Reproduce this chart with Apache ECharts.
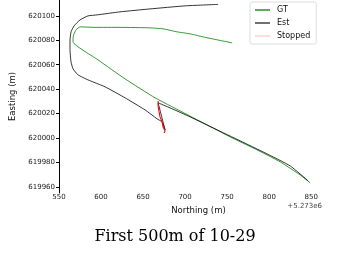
<!DOCTYPE html>
<html><head><meta charset="utf-8">
<script src="https://cdn.jsdelivr.net/npm/echarts@6/dist/echarts.min.js"></script>
<style>html,body{margin:0;padding:0;background:#fff}#c{width:350px;height:278px}</style>
</head><body><div id="c"></div>
<script>
// Northing (m, offset +5.273e6), Easting (m)
const gtNorthing = [756, 738.1, 721.4, 706, 690.5, 673.8, 658.3, 622.6, 592.9, 575, 570.2, 567.9, 566.7, 566.7, 596.4, 628.6, 664.3, 694, 723.8, 753.6, 783.3, 813.1, 836.9, 848.8];
const gtEasting  = [620077.9, 620080.4, 620082.8, 620085.3, 620086.9, 620089.4, 620090.2, 620090.6, 620090.6, 620091, 620088.5, 620085.3, 620082, 620078.7, 620064, 620048.4, 620032.9, 620022.2, 620011.6, 620000.9, 619991.1, 619980.5, 619969.8, 619963.3];

const estNorthing = [739.3, 700, 658.3, 622.6, 595.2, 584.5, 575, 567.9, 564.3, 563.1, 563.1, 564.3, 566.7, 572.6, 584.5, 604.8, 628.6, 652.4, 666.7, 672.6, 676.2, 667.9, 682.1, 706, 735.7, 765.5, 795.2, 825, 846.4];
const estEasting  = [620109.4, 620108.2, 620105.7, 620103.3, 620100.8, 620100, 620096.7, 620091.8, 620086.9, 620080.4, 620072.2, 620062.3, 620056.6, 620051.7, 620047.6, 620041.9, 620032.9, 620023, 620015.7, 620013.2, 620006.7, 620028.8, 620024.7, 620017.3, 620007.5, 619997.7, 619987.8, 619977.2, 619964.9];

const stopNorthing = [667.9, 667.9, 669, 670.2, 672.6, 673.8, 676.2, 675];
const stopEasting  = [620030.4, 620026.3, 620021.4, 620017.3, 620013.2, 620009.1, 620005.8, 620004.2];

const xTicks = [550, 600, 650, 700, 750, 800, 850];
const yTicks = [619960, 619980, 620000, 620020, 620040, 620060, 620080, 620100];

const zip = (a, b) => a.map((v, i) => [v, b[i]]);
const font = 'DejaVu Sans';
const chart = echarts.init(document.getElementById('c'), null, {renderer: 'canvas'});
chart.setOption({
  animation: false,
  grid: {left: 59, top: 0, right: 22, bottom: 85, containLabel: false},
  xAxis: {
    type: 'value', min: 550, max: 870,
    axisLine: {show: false}, axisTick: {show: false}, splitLine: {show: false},
    axisLabel: {customValues: xTicks, fontFamily: font, fontSize: 7, color: '#222', margin: 1,
                formatter: v => String(v)},
    name: 'Northing (m)', nameLocation: 'middle', nameGap: 9,
    nameTextStyle: {fontFamily: font, fontSize: 8.5, color: '#111', padding: [0, 0, 0, 10]}
  },
  yAxis: {
    type: 'value', min: 619955, max: 620113,
    axisLine: {show: true, lineStyle: {color: '#000', width: 1}},
    axisTick: {show: true, length: 3, customValues: yTicks, lineStyle: {color: '#000'}},
    splitLine: {show: false},
    axisLabel: {customValues: yTicks, fontFamily: font, fontSize: 7, color: '#222', margin: 4,
                formatter: v => String(v)},
    name: 'Easting (m)', nameLocation: 'middle', nameGap: 32, nameRotate: 90,
    nameTextStyle: {fontFamily: font, fontSize: 8.5, color: '#111'}
  },
  legend: {
    left: 250, top: 2, orient: 'vertical',
    backgroundColor: '#fff', borderColor: '#ddd', borderWidth: 1, borderRadius: 2,
    padding: [4, 6, 4, 5], itemGap: 5, itemWidth: 15, itemHeight: 1.3, icon: 'rect',
    textStyle: {fontFamily: font, fontSize: 8, color: '#111', padding: [0, 0, 0, 2]},
    data: [
      {name: 'GT', itemStyle: {color: '#008000'}},
      {name: 'Est', itemStyle: {color: '#222'}},
      {name: 'Stopped', itemStyle: {color: '#ffc8c8'}}
    ]
  },
  series: [
    {name: 'GT', type: 'line', data: zip(gtNorthing, gtEasting), symbol: 'none', smooth: 0.15,
     lineStyle: {color: '#008000', width: 0.8}, itemStyle: {color: '#008000'}, z: 2},
    {name: 'Est', type: 'line', data: zip(estNorthing, estEasting), symbol: 'none', smooth: 0.15,
     lineStyle: {color: '#000', width: 0.8}, itemStyle: {color: '#000'}, z: 3},
    {name: 'Stopped', type: 'line', data: zip(stopNorthing, stopEasting), symbol: 'none',
     lineStyle: {color: '#ff0000', width: 1.1}, itemStyle: {color: '#ff0000'}, z: 4}
  ],
  graphic: [
    {type: 'text', right: 28, top: 203, style: {text: '+5.273e6', font: '7px DejaVu Sans', fill: '#444'}},
    {type: 'text', left: 'center', top: 229, style: {text: 'First 500m of 10-29', font: '16px "DejaVu Serif"', fill: '#000'}}
  ]
});
</script></body></html>
